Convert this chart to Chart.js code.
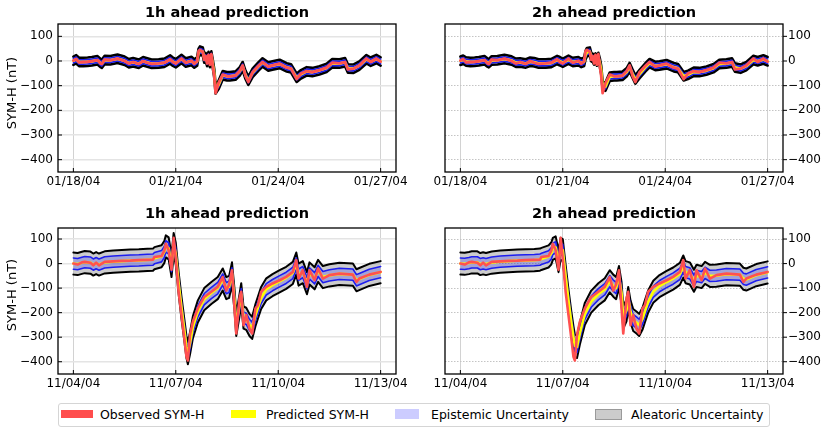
<!DOCTYPE html>
<html>
<head>
<meta charset="utf-8">
<script src="https://cdn.jsdelivr.net/npm/chart.js@4.4.1/dist/chart.umd.min.js"></script>
<style>
    body { margin: 0; width: 831px; height: 431px; background: #fff; position: relative; overflow: hidden;
           font-family: 'DejaVu Sans', sans-serif; color: #000; }
    .panel { position: absolute; }
    .title { position: absolute; text-align: center; font-weight: bold; font-size: 14.5px; line-height: 17px; }
    .ylabel { position: absolute; width: 160px; text-align: center; font-size: 13px; line-height: 13px;
              transform: translate(-50%, -50%) rotate(-90deg); white-space: nowrap; }
    .legendBox { position: absolute; left: 58px; top: 403px; width: 710px; height: 22px;
                 border: 1px solid #d5d5d5; border-radius: 3px; }
    .patch { position: absolute; }
    .legendText { position: absolute; font-size: 12.5px; line-height: 15px; top: 407px; white-space: nowrap; }
</style>
</head>
<body>

<div class="panel" style="left:0;top:0;width:415px;height:200px"><canvas id="janChart1h"></canvas></div>
<div class="panel" style="left:415px;top:0;width:416px;height:200px"><canvas id="janChart2h"></canvas></div>
<div class="panel" style="left:0;top:200px;width:415px;height:200px"><canvas id="novChart1h"></canvas></div>
<div class="panel" style="left:415px;top:200px;width:416px;height:200px"><canvas id="novChart2h"></canvas></div>

<div class="title" style="left:58px;width:338px;top:4px">1h ahead prediction</div>
<div class="title" style="left:445px;width:338px;top:4px">2h ahead prediction</div>
<div class="title" style="left:58px;width:338px;top:205px">1h ahead prediction</div>
<div class="title" style="left:445px;width:338px;top:205px">2h ahead prediction</div>

<div class="ylabel" style="left:10.5px;top:93px">SYM-H (nT)</div>
<div class="ylabel" style="left:10.5px;top:295px">SYM-H (nT)</div>

<div class="legendBox"></div>
<div class="patch" style="left:61px;top:410px;width:32px;height:8px;background:#ff4d4d"></div>
<div class="legendText" style="left:100px">Observed SYM-H</div>
<div class="patch" style="left:231px;top:410px;width:25px;height:8px;background:#ffff00"></div>
<div class="legendText" style="left:266px">Predicted SYM-H</div>
<div class="patch" style="left:395px;top:409px;width:24px;height:10px;background:#ccccff"></div>
<div class="legendText" style="left:431px">Epistemic Uncertainty</div>
<div class="patch" style="left:595px;top:409px;width:25px;height:9px;background:#cccccc;border:1px solid #9a9a9a"></div>
<div class="legendText" style="left:631px">Aleatoric Uncertainty</div>

<script>
// ticks
const xTickHours = [0, 72, 144, 216];
const janTickLabels = ['01/18/04', '01/21/04', '01/24/04', '01/27/04'];
const novTickLabels = ['11/04/04', '11/07/04', '11/10/04', '11/13/04'];
const yTickValues = [-400, -300, -200, -100, 0, 100];
const yTickLabels = ['\u2212400', '\u2212300', '\u2212200', '\u2212100', '0', '100'];

// January 2004 event, hours since 01/18/04 00:00
const janHours = [0, 2, 4, 7, 10, 13, 17, 19, 20, 22, 26, 31, 36, 39, 42, 46, 49, 52, 55, 60,
    64, 68, 70, 72, 76, 79, 83, 85, 87, 88, 89, 91, 92, 93, 94, 95, 96, 97, 98, 99,
    100, 102, 105, 108, 110, 114, 117, 119, 121, 123, 126, 130, 133, 137, 140, 145, 150, 153, 157, 160,
    164, 168, 173, 178, 182, 187, 191, 193, 197, 201, 206, 209, 213, 216];
const janObserved = [2, 8, -6, -4, -3, -1, 4, -10, -12, 6, 3, 10, 0, -10, -4, -12, 0, -7, -12, -10,
    -7, 7, -4, -10, 10, -7, 1, -11, -1, 40, 45, 37, 5, 20, -10, 25, -15, 28, -20, -60,
    -130, -90, -55, -62, -62, -59, -40, -18, -60, -85, -45, -20, -4, -23, -18, -11, -27, -31, -73, -51,
    -41, -45, -37, -27, -7, -10, -4, -34, -31, -18, 10, -4, 10, -3];
const janPredicted1h = [1, 7, -4, -4, -3, -1, 3, -8, -11, 4, 3, 9, 1, -9, -5, -11, -1, -6, -11, -10,
    -7, 6, -3, -9, 8, -6, 0, -10, -2, 33, 42, 38, 10, 16, -4, 20, -8, 22, -12, -48,
    -115, -98, -58, -62, -62, -59, -42, -21, -56, -80, -48, -23, -6, -22, -18, -12, -26, -30, -68, -54,
    -42, -45, -38, -28, -9, -10, -5, -30, -31, -19, 7, -3, 8, -2];
const janPredicted2h = [1, 5, -2, -4, -3, -1, 3, -6, -9, 2, 3, 8, 2, -7, -6, -10, -3, -5, -10, -10,
    -8, 4, -1, -7, 5, -4, -1, -8, -3, 24, 36, 38, 16, 13, 2, 14, -2, 16, -5, -36,
    -100, -104, -64, -62, -62, -60, -45, -25, -51, -75, -53, -26, -9, -20, -18, -13, -25, -29, -62, -56,
    -44, -45, -39, -29, -12, -10, -6, -26, -31, -21, 4, -1, 6, -1];
const janAleatoric = 17;
const janEpistemic = 9;

// November 2004 event, hours since 11/04/04 00:00
const novHours = [0, 3, 6, 8, 12, 14, 16, 18, 22, 28, 34, 40, 46, 52, 56, 57, 62, 64, 65, 67,
    69, 70.5, 72, 74, 76, 78, 79.5, 80.5, 82, 84, 87.5, 92, 97, 101.5, 105, 107.5, 109.5, 111.5, 113.3, 114.5,
    116.8, 118, 119.6, 121.5, 123.8, 125.7, 128, 129.7, 132, 135.6, 140, 145, 149.6, 154.3, 156.7, 158.3, 161.3, 164.2, 166, 169.6,
    172, 175.4, 180, 187, 196.5, 199, 201, 208, 216];
const novObserved = [0, -4, 5, 7, 3, -7, 4, -7, 7, 9, 11, 12, 14, 15, 16, 27, 31, 54, 81, 54,
    -25, 105, 20, -115, -210, -305, -380, -395, -290, -237, -183, -136, -115, -95, -55, -110, -85, -27, -183, -285,
    -142, -115, -251, -210, -265, -285, -183, -170, -115, -95, -81, -68, -54, -34, 14, -61, -27, -95, -27, -68,
    -20, -61, -47, -41, -45, -75, -61, -45, -34];
const novPredicted1h = [0, -2, 3, 6, 4, -4, 2, -4, 5, 8, 10, 12, 13, 15, 16, 22, 30, 48, 70, 62,
    -10, 80, 40, -80, -180, -270, -340, -365, -325, -260, -195, -145, -120, -100, -65, -100, -95, -40, -150, -250,
    -170, -125, -220, -225, -250, -262, -210, -180, -140, -105, -88, -72, -58, -38, 0, -45, -35, -80, -40, -60,
    -30, -55, -48, -42, -45, -68, -63, -46, -35];
const novPredicted2h = [0, -1, 2, 5, 5, -2, 1, -2, 4, 8, 10, 12, 13, 14, 16, 19, 29, 42, 60, 66,
    10, 60, 55, -50, -150, -240, -300, -335, -340, -285, -205, -155, -125, -105, -72, -90, -100, -55, -120, -220,
    -190, -140, -195, -230, -240, -250, -225, -195, -155, -115, -92, -75, -61, -42, -12, -35, -40, -70, -50, -55,
    -38, -50, -49, -43, -45, -62, -65, -47, -36];
const novAleatoric = 45;
const novEpistemic = 23;

Chart.defaults.font.family = "'DejaVu Sans', sans-serif";
Chart.defaults.color = '#000';

// box around the plot area and short tick marks like matplotlib
const axesFrame = {
    id: 'axesFrame',
    afterDraw(chart, args, opts) {
        const ctx = chart.ctx;
        const area = chart.chartArea;
        const xScale = chart.scales.x;
        const yScale = chart.scales.y;
        ctx.save();
        ctx.strokeStyle = '#000';
        ctx.lineWidth = 1;
        ctx.beginPath();
        xScale.ticks.forEach(t => {
            const px = xScale.getPixelForValue(t.value);
            ctx.moveTo(px, area.bottom);
            ctx.lineTo(px, area.bottom - 4);
        });
        yScale.ticks.forEach(t => {
            const py = yScale.getPixelForValue(t.value);
            if (opts.yRight) {
                ctx.moveTo(area.right, py);
                ctx.lineTo(area.right + 4, py);
            } else {
                ctx.moveTo(area.left, py);
                ctx.lineTo(area.left + 4, py);
            }
        });
        ctx.stroke();
        ctx.lineWidth = 1.3;
        ctx.strokeRect(area.left, area.top, area.right - area.left, area.bottom - area.top);
        ctx.restore();
    }
};

function drawPanel(canvasId, p) {
    const toPoints = (values) => p.hours.map((h, i) => ({x: h, y: values[i]}));
    const aleatoricUpper = p.predicted.map(v => v + p.aleatoric);
    const aleatoricLower = p.predicted.map(v => v - p.aleatoric);
    const epistemicUpper = p.predicted.map(v => v + p.epistemic);
    const epistemicLower = p.predicted.map(v => v - p.epistemic);

    const line = {pointRadius: 0, tension: 0, borderJoinStyle: 'round', borderCapStyle: 'round'};

    new Chart(document.getElementById(canvasId), {
        type: 'line',
        data: {
            datasets: [
                {...line, data: toPoints(aleatoricUpper), borderColor: '#000', borderWidth: p.edgeWidth,
                    fill: '+1', backgroundColor: 'rgba(128,128,128,0.4)', order: 6},
                {...line, data: toPoints(aleatoricLower), borderColor: '#000', borderWidth: p.edgeWidth,
                    fill: false, order: 5},
                {...line, data: toPoints(epistemicUpper), borderColor: '#1e1ef0', borderWidth: 1.6,
                    fill: '+1', backgroundColor: 'rgba(0,0,255,0.2)', order: 4},
                {...line, data: toPoints(epistemicLower), borderColor: '#1e1ef0', borderWidth: 1.6,
                    fill: false, order: 3},
                {...line, data: toPoints(p.predicted), borderColor: '#ffff00', borderWidth: 2.6, fill: false, order: 2},
                {...line, data: toPoints(p.observed), borderColor: '#ff5050', borderWidth: p.redWidth, fill: false, order: 1}
            ]
        },
        options: {
            responsive: true,
            maintainAspectRatio: false,
            animation: false,
            events: [],
            layout: {
                padding: {left: p.padLeft, right: p.padRight, top: p.padTop, bottom: 0}
            },
            scales: {
                x: {
                    type: 'linear',
                    min: -10.8,
                    max: 226.8,
                    bounds: 'data',
                    afterBuildTicks: (axis) => { axis.ticks = xTickHours.map(v => ({value: v})); },
                    afterFit: (axis) => { axis.height = p.xHeight; },
                    ticks: {
                        autoSkip: false,
                        maxRotation: 0,
                        minRotation: 0,
                        padding: 3,
                        font: {size: 12},
                        callback: (value, index) => p.tickLabels[index]
                    },
                    grid: {color: '#d2d2d2', lineWidth: 1, drawTicks: false},
                    border: {display: false}
                },
                y: {
                    type: 'linear',
                    position: p.yRight ? 'right' : 'left',
                    min: -450,
                    max: p.yMax,
                    bounds: 'data',
                    afterBuildTicks: (axis) => { axis.ticks = yTickValues.map(v => ({value: v})); },
                    afterFit: (axis) => { axis.width = p.yWidth; },
                    ticks: {
                        padding: 5,
                        font: {size: 12},
                        callback: (value, index) => yTickLabels[index]
                    },
                    grid: p.yRight
                        ? {color: '#c4c4c4', lineWidth: 1, drawTicks: false}
                        : {color: '#e4e4e4', lineWidth: 1.6, drawTicks: false},
                    border: p.yRight ? {display: false, dash: [1.5, 1.5]} : {display: false}
                }
            },
            plugins: {
                legend: {display: false},
                tooltip: {enabled: false},
                axesFrame: {yRight: p.yRight}
            }
        },
        plugins: [axesFrame]
    });
}

drawPanel('janChart1h', {hours: janHours, observed: janObserved, predicted: janPredicted1h,
    aleatoric: janAleatoric, epistemic: janEpistemic, edgeWidth: 2.6, redWidth: 2.8, tickLabels: janTickLabels,
    yMax: 150, yRight: false, padLeft: 0, padRight: 19, padTop: 24, xHeight: 28, yWidth: 58});
drawPanel('janChart2h', {hours: janHours, observed: janObserved, predicted: janPredicted2h,
    aleatoric: janAleatoric, epistemic: janEpistemic, edgeWidth: 2.6, redWidth: 2.8, tickLabels: janTickLabels,
    yMax: 150, yRight: true, padLeft: 30, padRight: 0, padTop: 24, xHeight: 28, yWidth: 48});
drawPanel('novChart1h', {hours: novHours, observed: novObserved, predicted: novPredicted1h,
    aleatoric: novAleatoric, epistemic: novEpistemic, edgeWidth: 2, redWidth: 2.6, tickLabels: novTickLabels,
    yMax: 145, yRight: false, padLeft: 0, padRight: 19, padTop: 28, xHeight: 26, yWidth: 58});
drawPanel('novChart2h', {hours: novHours, observed: novObserved, predicted: novPredicted2h,
    aleatoric: novAleatoric, epistemic: novEpistemic, edgeWidth: 2, redWidth: 2.6, tickLabels: novTickLabels,
    yMax: 145, yRight: true, padLeft: 30, padRight: 0, padTop: 28, xHeight: 26, yWidth: 48});
</script>
</body>
</html>
